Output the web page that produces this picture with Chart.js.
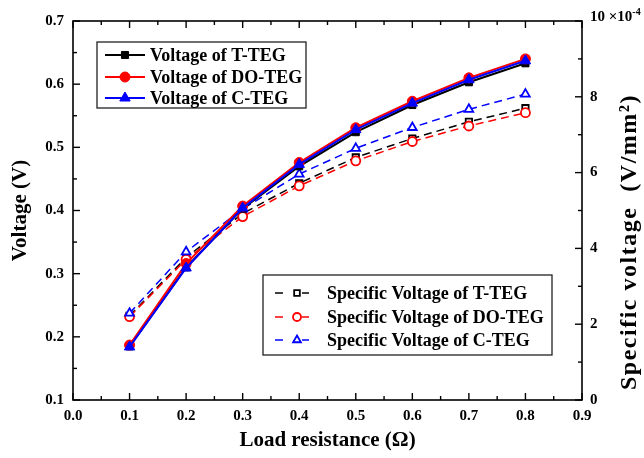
<!DOCTYPE html>
<html>
<head>
<meta charset="utf-8">
<script src="https://cdn.jsdelivr.net/npm/chart.js"></script>
<style>
  html, body { margin: 0; padding: 0; background: #fff; }
  #wrap { width: 644px; height: 458px; }
</style>
</head>
<body>
<div id="wrap"><canvas id="chart" width="644" height="458"></canvas></div>
<script>
// Values (load resistance in ohm, voltage in V, specific voltage in 1e-4 V/mm2)
const resistance = [0.1, 0.2, 0.3, 0.4, 0.5, 0.6, 0.7, 0.8];
const voltT  = [0.185, 0.310, 0.403, 0.470, 0.524, 0.567, 0.603, 0.633];
const voltDO = [0.187, 0.316, 0.407, 0.476, 0.531, 0.573, 0.610, 0.640];
const voltC  = [0.184, 0.309, 0.404, 0.473, 0.528, 0.570, 0.607, 0.637];
const specT  = [2.22, 3.76, 4.92, 5.72, 6.40, 6.90, 7.34, 7.70];
const specDO = [2.20, 3.71, 4.84, 5.65, 6.31, 6.82, 7.23, 7.58];
const specC  = [2.29, 3.91, 5.04, 5.96, 6.64, 7.19, 7.67, 8.07];

const labelsVolt = ['Voltage of T-TEG', 'Voltage of DO-TEG', 'Voltage of C-TEG'];
const labelsSpec = ['Specific Voltage of T-TEG', 'Specific Voltage of DO-TEG', 'Specific Voltage of C-TEG'];

const SERIF = '"Liberation Serif", "Times New Roman", serif';
const pts = ys => ys.map((y, i) => ({ x: resistance[i], y }));

function solid(label, ys, color, style, r, order){
  return {
    label, data: pts(ys), yAxisID: 'y', order,
    borderColor: color, backgroundColor: color, borderWidth: 2,
    pointStyle: style, pointRadius: r, pointBackgroundColor: color,
    pointBorderColor: color, pointBorderWidth: 1, tension: 0, group: 'volt'
  };
}
function dashed(label, ys, color, style, r, order){
  return {
    label, data: pts(ys), yAxisID: 'y2', order,
    borderColor: color, backgroundColor: '#fff', borderWidth: 1.5, borderDash: [8, 5],
    pointStyle: style, pointRadius: r, pointBackgroundColor: '#fff',
    pointBorderColor: color, pointBorderWidth: 1.8, tension: 0, group: 'spec'
  };
}

// inward ticks on all four sides + frame, like the Origin plot
const frameTicks = {
  id: 'frameTicks',
  afterDraw(chart){
    const {ctx, chartArea: a, scales} = chart;
    ctx.save();
    ctx.strokeStyle = '#000';
    ctx.lineWidth = 1.6;
    ctx.strokeRect(a.left, a.top, a.right - a.left, a.bottom - a.top);
    ctx.lineWidth = 1.4;
    const tick = (x1, y1, x2, y2) => { ctx.beginPath(); ctx.moveTo(x1, y1); ctx.lineTo(x2, y2); ctx.stroke(); };
    for (let i = 0; i <= 18; i++){
      const x = scales.x.getPixelForValue(i * 0.05);
      const len = i % 2 === 0 ? 7 : 4;
      tick(x, a.bottom, x, a.bottom - len);
      tick(x, a.top, x, a.top + len);
    }
    for (let i = 0; i <= 12; i++){
      const y = scales.y.getPixelForValue(0.1 + i * 0.05);
      tick(a.left, y, a.left + (i % 2 === 0 ? 7 : 4), y);
    }
    for (let i = 0; i <= 10; i++){
      const y = scales.y2.getPixelForValue(i);
      tick(a.right, y, a.right - (i % 2 === 0 ? 7 : 4), y);
    }
    // top label of the right axis with its exponent
    ctx.fillStyle = '#000';
    ctx.textBaseline = 'middle';
    ctx.textAlign = 'left';
    ctx.font = 'bold 15px ' + SERIF;
    const base = '10 \u00d710';
    ctx.fillText(base, a.right + 8, a.top - 4);
    const w = ctx.measureText(base).width;
    ctx.font = 'bold 10px ' + SERIF;
    ctx.fillText('-4', a.right + 8 + w, a.top - 9);
    // right axis title, reading bottom to top
    ctx.save();
    ctx.translate(630, 242);
    ctx.rotate(-Math.PI / 2);
    ctx.textAlign = 'center';
    ctx.font = 'bold 24px ' + SERIF;
    if ('letterSpacing' in ctx) ctx.letterSpacing = '1.5px';
    ctx.fillText('Specific voltage  (V/mm\u00b2)', 0, 0);
    ctx.restore();
    ctx.restore();
  }
};

// two boxed legends placed inside the plot
const boxLegends = {
  id: 'boxLegends',
  afterDraw(chart){
    const {ctx} = chart;
    const sets = chart.data.datasets;
    const drawBox = (group, box, rows, sample, textX) => {
      ctx.save();
      ctx.strokeStyle = '#222';
      ctx.lineWidth = 1.3;
      ctx.strokeRect(box[0], box[1], box[2] - box[0], box[3] - box[1]);
      const items = sets.filter(d => d.group === group).sort((p, q) => p.legendIndex - q.legendIndex);
      items.forEach((d, i) => {
        const y = rows[i];
        ctx.strokeStyle = d.borderColor;
        ctx.lineWidth = d.borderWidth;
        ctx.setLineDash([]);
        sample.segs.forEach(s => { ctx.beginPath(); ctx.moveTo(s[0], y); ctx.lineTo(s[1], y); ctx.stroke(); });
        ctx.fillStyle = d.pointBackgroundColor;
        ctx.strokeStyle = d.pointBorderColor;
        ctx.lineWidth = d.pointBorderWidth;
        Chart.helpers.drawPoint(ctx, { pointStyle: d.pointStyle, radius: sample.r(d), borderWidth: d.pointBorderWidth, rotation: 0 }, sample.mx, y);
        ctx.fillStyle = '#000';
        ctx.font = 'bold 18px ' + SERIF;
        ctx.textAlign = 'left';
        ctx.textBaseline = 'middle';
        ctx.fillText(d.label, textX, y + 1);
      });
      ctx.restore();
    };
    drawBox('volt', [97, 42, 306, 108], [55, 77, 98],
      { segs: [[105, 145]], mx: 125, r: d => d.pointRadius }, 150);
    drawBox('spec', [263, 275, 552, 355], [293, 317, 340],
      { segs: [[275, 283], [302, 309]], mx: 297, r: d => d.pointRadius - 0.5 }, 327);
  }
};

const tickFont = { family: SERIF, weight: 'bold', size: 15 };
const titleFont = { family: SERIF, weight: 'bold', size: 21, lineHeight: 1.2 };

const datasets = [
  solid(labelsVolt[0], voltT, '#000000', 'rect', 5, 5),
  solid(labelsVolt[1], voltDO, '#ff0000', 'circle', 5, 4),
  solid(labelsVolt[2], voltC, '#0000ff', 'triangle', 6, 3),
  dashed(labelsSpec[0], specT, '#000000', 'rect', 4.5, 8),
  dashed(labelsSpec[1], specDO, '#ff0000', 'circle', 4.5, 7),
  dashed(labelsSpec[2], specC, '#0000ff', 'triangle', 5, 6)
];
datasets.forEach((d, i) => { d.legendIndex = i % 3; });

new Chart(document.getElementById('chart'), {
  type: 'line',
  data: { datasets },
  options: {
    responsive: false,
    animation: false,
    devicePixelRatio: 1,
    layout: { padding: { top: 21, left: 0, right: 0, bottom: 0 } },
    plugins: { legend: { display: false }, tooltip: { enabled: false } },
    scales: {
      x: {
        type: 'linear', min: 0, max: 0.9,
        grid: { display: false, drawTicks: false },
        border: { display: false },
        ticks: { stepSize: 0.1, padding: 7, color: '#000', font: tickFont, maxRotation: 0,
                 callback: v => Number(v).toFixed(1) },
        title: { display: true, text: 'Load resistance (\u03a9)', color: '#000', font: titleFont,
                 padding: { top: 0, bottom: 5 } },
        afterFit: s => { s.height = 58; }
      },
      y: {
        type: 'linear', position: 'left', min: 0.1, max: 0.7,
        grid: { display: false, drawTicks: false },
        border: { display: false },
        ticks: { stepSize: 0.1, padding: 9, color: '#000', font: tickFont,
                 callback: v => Number(v).toFixed(1) },
        title: { display: true, text: 'Voltage (V)', color: '#000', font: titleFont,
                 padding: { top: 8, bottom: 0 } },
        afterFit: s => { s.width = 73; }
      },
      y2: {
        type: 'linear', position: 'right', min: 0, max: 10,
        grid: { display: false, drawTicks: false },
        border: { display: false },
        ticks: { stepSize: 2, padding: 8, color: '#000', font: tickFont,
                 callback: v => (v === 10 ? '' : String(v)) },
        afterFit: s => { s.width = 62; }
      }
    }
  },
  plugins: [frameTicks, boxLegends]
});
</script>
</body>
</html>
